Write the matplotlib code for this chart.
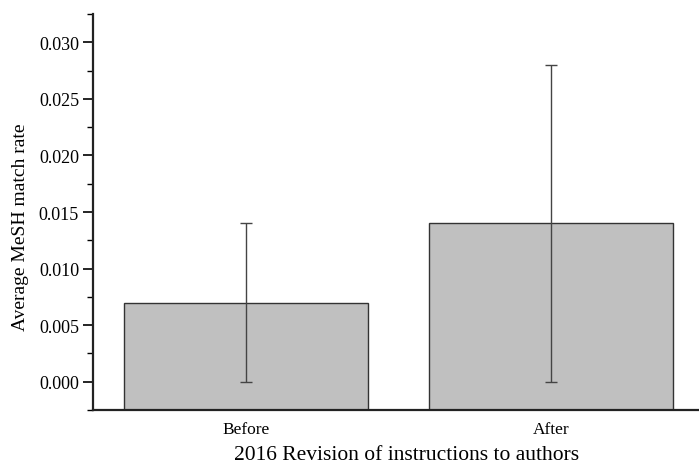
import matplotlib
matplotlib.use("Agg")
import matplotlib.pyplot as plt
from matplotlib.ticker import MultipleLocator

categories = ["Before", "After"]
means = [0.007, 0.014]
err_low = [0.007, 0.014]
err_high = [0.007, 0.014]

plt.rcParams['font.family'] = ['Liberation Serif', 'DejaVu Serif']

fig = plt.figure(figsize=(6.99, 4.64), dpi=100)
ax = fig.add_axes([93/699, 1 - 411/464, (704 - 93)/699, (411 - 15)/464])

ymin, ymax = -0.0025, 0.0325
x = [1, 2]
heights = [m - ymin for m in means]
ax.bar(x, heights, bottom=ymin, width=0.8, color="#c0c0c0", edgecolor="#333333",
       linewidth=1.0, zorder=2)
ax.errorbar(x, means, yerr=[err_low, err_high], fmt="none", ecolor="#444444",
            elinewidth=1.0, capsize=4, capthick=1.0, zorder=3)

ax.set_xlim(0.5, 2.5)
ax.set_ylim(ymin, ymax)
ax.set_xticks(x)
ax.set_xticklabels(categories, fontsize=12.5)
ax.tick_params(axis='x', length=0, pad=8)
ax.yaxis.set_minor_locator(MultipleLocator(0.0025))
yt = [0.0, 0.005, 0.01, 0.015, 0.02, 0.025, 0.03]
ax.set_yticks(yt)
ax.set_yticklabels([f"{v:.3f}" for v in yt], fontsize=13)
ax.tick_params(axis='y', which='major', length=7, width=1.2, direction='out', pad=3)
ax.tick_params(axis='y', which='minor', length=4, width=1.0, direction='out')

for s in ["top", "right"]:
    ax.spines[s].set_visible(False)
for s in ["left", "bottom"]:
    ax.spines[s].set_linewidth(1.6)
    ax.spines[s].set_color("#222222")

ax.set_ylabel("Average MeSH match rate", fontsize=14)
ax.yaxis.set_label_coords(-0.104, 0.465)
ax.set_xlabel("2016 Revision of instructions to authors", fontsize=15.5)
ax.xaxis.set_label_coords(0.514, -0.088)

fig.savefig("out.png", dpi=100)
